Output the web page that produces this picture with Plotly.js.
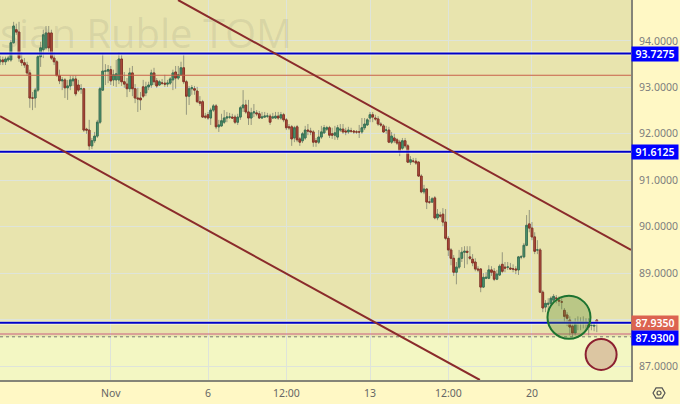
<!DOCTYPE html>
<html><head><meta charset="utf-8">
<script src="https://cdn.plot.ly/plotly-3.0.1.min.js"></script>
<style>html,body{margin:0;padding:0;background:#FFF8C5}</style></head>
<body><div id="chart" style="width:680px;height:404px"></div>
<script>
const opens=[93.55,93.59,93.55,93.59,93.59,93.96,94.24,94.19,93.59,93.53,
93.48,93.31,92.77,92.77,92.94,93.66,93.81,93.85,94.17,94.17,
93.63,93.55,93.25,93.14,93.16,92.99,93.03,93.14,93.18,93.05,
92.97,92.97,92.10,92.08,91.74,91.85,91.95,92.25,92.94,93.35,
93.35,93.38,93.16,93.16,93.16,93.61,93.12,93.07,92.97,93.31,
92.97,92.77,92.77,93.01,92.88,93.01,93.05,93.31,93.14,93.05,
93.09,93.09,93.07,93.09,93.16,93.33,93.20,93.27,93.42,93.12,
92.81,92.97,92.97,92.92,92.69,92.69,92.38,92.41,92.34,92.51,
92.60,92.15,92.17,92.25,92.34,92.36,92.36,92.36,92.25,92.36,
92.56,92.62,92.47,92.34,92.45,92.45,92.43,92.34,92.36,92.38,
92.38,92.34,92.34,92.38,92.34,92.41,92.30,92.15,92.15,91.91,
92.15,91.89,91.85,91.91,92.08,92.06,92.04,91.85,91.82,91.93,
92.02,92.10,92.13,92.00,91.97,91.93,92.08,92.10,92.06,92.04,
92.06,92.06,92.04,92.04,92.04,92.13,92.19,92.34,92.41,92.34,
92.32,92.21,92.17,92.08,92.08,91.82,91.91,91.87,91.82,91.69,
91.85,91.74,91.39,91.41,91.41,91.39,91.09,90.75,90.81,90.53,
90.53,90.62,90.19,90.25,90.27,90.10,89.75,89.50,89.32,89.02,
89.13,89.32,89.45,89.47,89.35,89.30,89.24,89.09,89.09,88.70,
88.89,88.89,89.07,89.04,88.87,88.96,89.19,89.13,89.13,89.11,
89.09,89.09,89.07,89.35,89.35,89.60,90.06,89.97,89.78,89.50,
89.50,88.59,88.27,88.33,88.35,88.42,88.46,88.42,88.38,88.20,
88.10,87.99,87.86,87.71,87.92,87.92,87.92,87.94,87.94,87.88,
87.86,87.99];
const closes=[93.59,93.55,93.61,93.63,93.96,94.32,94.19,93.63,93.53,93.48,
93.31,92.77,92.77,92.94,93.66,93.85,94.13,94.17,93.85,93.63,
93.55,93.25,93.14,93.16,92.99,93.03,93.16,93.18,92.86,92.94,
92.97,92.08,92.08,91.74,91.85,91.95,92.25,92.97,93.35,93.35,
93.38,93.14,93.27,93.29,93.61,93.12,93.07,92.97,93.31,92.97,
92.77,92.75,92.73,92.81,93.01,93.05,93.31,93.12,93.03,93.12,
93.09,93.07,93.09,93.18,93.31,93.20,93.27,93.42,93.12,92.81,
92.97,92.99,92.94,92.69,92.66,92.36,92.36,92.34,92.51,92.60,
92.15,92.19,92.28,92.34,92.36,92.36,92.34,92.25,92.36,92.56,
92.62,92.47,92.34,92.45,92.47,92.43,92.34,92.36,92.38,92.38,
92.25,92.36,92.38,92.34,92.41,92.30,92.13,92.13,91.89,92.13,
91.87,91.82,92.00,92.08,92.06,92.04,91.82,91.82,91.93,92.04,
92.13,92.13,91.97,91.97,92.02,92.13,92.10,92.04,92.04,92.08,
92.06,92.04,92.04,92.04,92.13,92.21,92.30,92.41,92.36,92.32,
92.21,92.19,92.04,92.08,91.82,91.95,91.85,91.80,91.63,91.85,
91.74,91.39,91.44,91.41,91.37,91.09,90.75,90.81,90.53,90.53,
90.60,90.19,90.27,90.23,90.10,89.75,89.50,89.32,89.02,89.13,
89.32,89.45,89.47,89.45,89.32,89.22,89.09,89.07,88.70,88.91,
88.91,89.07,89.02,88.87,88.98,89.15,89.04,89.11,89.13,89.09,
89.09,89.07,89.35,89.35,89.60,90.03,89.97,89.78,89.47,89.50,
88.59,88.25,88.35,88.35,88.46,88.50,88.46,88.40,88.38,88.07,
88.03,87.84,87.71,87.92,87.92,87.94,87.94,87.94,87.84,87.88,
87.88,87.94];
const highs=[93.68,93.66,93.66,93.68,94.02,94.41,94.37,94.41,93.76,93.63,
93.55,93.38,92.90,92.99,93.70,93.98,94.24,94.32,94.32,94.24,
93.76,93.59,93.38,93.22,93.20,93.16,93.25,93.25,93.25,93.16,
93.07,92.99,92.13,92.30,91.91,92.04,92.30,93.01,93.74,93.50,
93.48,93.46,93.38,93.59,93.76,93.70,93.33,93.20,93.42,93.46,
93.07,92.99,92.90,93.16,93.12,93.12,93.38,93.42,93.20,93.16,
93.18,93.27,93.16,93.22,93.38,93.46,93.46,93.55,93.70,93.16,
93.03,93.05,93.03,93.01,92.81,92.73,92.45,92.47,92.56,92.64,
92.64,92.30,92.43,92.51,92.47,92.45,92.43,92.41,92.43,92.60,
92.94,92.73,92.73,92.56,92.64,92.51,92.49,92.47,92.47,92.45,
92.43,92.45,92.47,92.47,92.47,92.45,92.34,92.21,92.19,92.17,
92.19,91.93,92.04,92.17,92.21,92.13,92.08,91.91,92.08,92.17,
92.19,92.17,92.17,92.13,92.17,92.19,92.21,92.21,92.13,92.15,
92.13,92.08,92.08,92.19,92.34,92.34,92.34,92.47,92.47,92.41,
92.38,92.25,92.21,92.17,92.15,92.04,92.00,91.91,91.87,91.91,
91.91,91.78,91.52,91.48,91.48,91.41,91.13,90.90,90.83,90.66,
90.64,90.66,90.38,90.32,90.40,90.38,89.80,89.54,89.39,89.24,
89.50,89.56,89.58,89.58,89.58,89.41,89.32,89.15,89.11,89.00,
89.02,89.17,89.15,89.11,89.07,89.19,89.45,89.24,89.24,89.22,
89.19,89.15,89.37,89.39,89.65,90.25,90.36,90.10,89.88,89.71,
89.54,88.63,88.42,88.46,88.50,88.55,88.53,88.50,88.46,88.25,
88.16,88.07,87.94,88.03,88.07,88.05,88.07,88.03,88.03,87.94,
87.94,88.01];
const lows=[93.48,93.48,93.48,93.55,93.55,93.94,94.13,93.55,93.46,93.42,
93.25,92.56,92.51,92.56,92.90,93.44,93.63,93.81,93.76,93.59,
93.48,93.25,93.07,92.94,92.77,92.73,92.94,93.03,92.81,92.90,
92.86,92.04,92.00,91.65,91.67,91.80,91.91,92.21,92.92,93.05,
93.09,93.05,93.03,93.01,93.07,93.03,92.99,92.79,92.90,92.81,
92.66,92.47,92.51,92.77,92.81,92.94,92.99,93.05,92.99,93.03,
93.05,93.01,93.01,93.05,92.94,92.97,93.16,93.25,93.07,92.41,
92.62,92.84,92.84,92.66,92.60,92.34,92.32,92.30,92.19,92.47,
92.10,92.04,92.15,92.21,92.25,92.32,92.32,92.21,92.19,92.30,
92.47,92.43,92.19,92.19,92.36,92.38,92.32,92.32,92.34,92.34,
92.19,92.32,92.32,92.30,92.30,92.25,92.08,92.08,91.74,91.82,
91.82,91.74,91.80,91.87,91.97,91.97,91.72,91.72,91.78,91.89,
92.00,92.06,91.91,91.89,91.87,91.87,92.04,92.00,91.97,92.00,
92.02,92.00,92.00,91.91,92.00,92.08,92.17,92.25,92.25,92.28,
92.17,92.15,92.02,92.00,91.80,91.78,91.80,91.76,91.52,91.65,
91.69,91.37,91.33,91.37,91.33,91.07,90.72,90.70,90.38,90.49,
90.51,90.16,90.14,90.19,90.01,89.71,89.37,89.17,88.94,88.76,
89.09,89.24,89.11,89.19,89.28,89.15,89.04,89.02,88.59,88.68,
88.87,88.87,88.94,88.83,88.85,88.94,89.00,89.02,89.07,89.07,
89.02,88.98,88.96,89.30,89.32,89.58,89.88,89.71,89.41,89.41,
88.57,88.16,88.16,88.20,88.29,88.38,88.35,88.29,88.22,87.94,
87.86,87.66,87.64,87.66,87.77,87.77,87.81,87.77,87.66,87.77,
87.75,87.73];

const xRange=[-0.04,233.67];
const yRange=[86.70,94.88];
const yTicks=[87,88,89,90,91,92,93,94];
const yTickText=['87.0000','','89.0000','90.0000','91.0000','92.0000','93.0000','94.0000'];
const xTickPos=[41,77,106,137,166,197];
const xTickText=['Nov','6','12:00','13','12:00','20'];
const blueLevels=[93.7275,91.6125,87.93];
const thinRedLevel=[93.26];
const pinkLevel=[87.69];
const dottedLevel=[87.63];
const trendUpperX=[65.9,233.67], trendUpperY=[94.88,89.50];
const trendLowerX=[-0.04,177.7], trendLowerY=[92.38,86.70];
const greenCircleX=[210.7], greenCircleY=[88.05];
const redCircleX=[222.6], redCircleY=[87.25];

const idx=opens.map((_,i)=>i);
const bodyHigh=opens.map((o,i)=>Math.max(o,closes[i]));
const bodyLow=opens.map((o,i)=>Math.min(o,closes[i]));
const lvl=(vals,color,width,dash)=>vals.map(v=>({type:'scatter',mode:'lines',x:xRange,y:[v,v],hoverinfo:'skip',line:{color,width,dash:dash||'solid'}}));
const wick='rgba(115,120,105,0.7)';
const traces=[
 ...lvl(thinRedLevel,'#c8604a',1),
 ...lvl(pinkLevel,'#cc5f80',1),
 ...lvl(dottedLevel,'#777770',1,'dot'),
 ...lvl(blueLevels,'rgba(255,255,235,0.65)',4),
 {type:'candlestick',x:idx,open:opens,high:highs,low:lows,close:closes,hoverinfo:'skip',
  increasing:{line:{color:wick,width:1},fillcolor:wick},decreasing:{line:{color:wick,width:1},fillcolor:wick}},
 {type:'candlestick',x:idx,open:opens,high:bodyHigh,low:bodyLow,close:closes,hoverinfo:'skip',
  increasing:{line:{color:'#3a7355',width:1},fillcolor:'#4f9a72'},decreasing:{line:{color:'#8a3528',width:1},fillcolor:'#b25241'}},
 ...lvl(blueLevels,'#0000c8',2),
 {type:'scatter',mode:'lines',x:trendUpperX,y:trendUpperY,hoverinfo:'skip',line:{color:'#8a2b2b',width:2}},
 {type:'scatter',mode:'lines',x:trendLowerX,y:trendLowerY,hoverinfo:'skip',line:{color:'#8a2b2b',width:2}},
 {type:'scatter',mode:'markers',x:greenCircleX,y:greenCircleY,hoverinfo:'skip',marker:{size:43,color:'rgba(90,140,50,0.32)',line:{color:'#1d7330',width:2}}},
 {type:'scatter',mode:'markers',x:redCircleX,y:redCircleY,hoverinfo:'skip',marker:{size:31,color:'#dcc6a2',line:{color:'#8c2030',width:2}}}
];
const axisFont={family:'"Noto Sans",sans-serif',size:10.5,color:'#7d7d7d'};
const tag=(val,text,bg,shift)=>({xref:'paper',yref:'y',x:1,y:val,xanchor:'left',yanchor:'middle',yshift:shift,text:text,showarrow:false,
  bgcolor:bg,width:44,height:12,borderpad:1,font:{family:'"Noto Sans",sans-serif',size:10.5,color:'#fff',weight:600}});
const layout={
 width:680,height:404,margin:{l:0,r:49,t:0,b:24,pad:0},
 paper_bgcolor:'#FFF8C5',plot_bgcolor:'#F3F7C3',showlegend:false,boxgap:0.12,
 xaxis:{range:xRange,type:'linear',rangeslider:{visible:false},tickmode:'array',tickvals:xTickPos,ticktext:xTickText,
   showgrid:true,gridcolor:'rgb(222,228,218)',gridwidth:1,zeroline:false,showline:true,linecolor:'#858578',linewidth:2,
   ticks:'outside',ticklen:2,tickcolor:'rgba(0,0,0,0)',tickfont:{family:'"Noto Sans",sans-serif',size:10.5,color:'#666'},fixedrange:true},
 yaxis:{range:yRange,side:'right',tickmode:'array',tickvals:yTicks,ticktext:yTickText,
   showgrid:true,gridcolor:'rgb(222,228,218)',gridwidth:1,zeroline:false,showline:true,linecolor:'#858578',linewidth:2,
   ticks:'outside',ticklen:4,tickcolor:'rgba(0,0,0,0)',tickfont:axisFont,fixedrange:true},
 shapes:[
  {type:'rect',layer:'below',xref:'paper',yref:'y',x0:0,x1:1,y0:dottedLevel[0],y1:yRange[1],line:{width:0},fillcolor:'rgba(197,166,102,0.22)'},
  {type:'path',xref:'paper',yref:'paper',line:{color:'#555',width:1.2},
   path:'M1.0349,-0.0342 L1.0397,-0.0206 L1.0492,-0.0206 L1.0539,-0.0342 L1.0492,-0.0478 L1.0397,-0.0478 Z'},
  {type:'circle',xref:'paper',yref:'paper',line:{color:'#555',width:1.2},x0:1.0412,x1:1.0476,y0:-0.0395,y1:-0.0289}
 ],
 annotations:[
  {xref:'paper',yref:'y',x:-0.003,y:94.17,xanchor:'left',yanchor:'middle',showarrow:false,text:'sian Ruble TOM',
   font:{family:'"Open Sans",sans-serif',size:40,color:'rgba(110,110,100,0.13)'}},
  tag(blueLevels[0],'93.7275','#0000ff',0),
  tag(blueLevels[1],'91.6125','#0000ff',0),
  tag(87.935,'87.9350','#dc6350',0),
  tag(87.93,'87.9300','#0000ff',-15)
 ]
};
Plotly.newPlot('chart',traces,layout,{staticPlot:true,displayModeBar:false});
</script></body></html>
